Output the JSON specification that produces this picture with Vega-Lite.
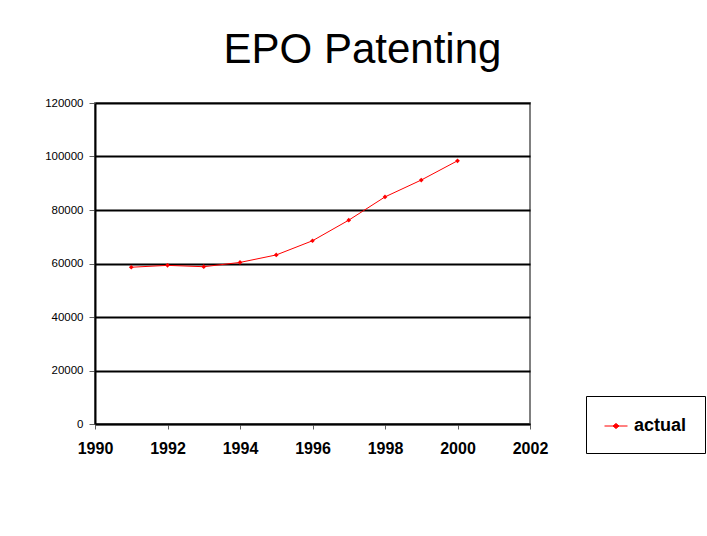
{
  "$schema": "https://vega.github.io/schema/vega-lite/v6.json",
  "autosize": "none",
  "width": 435,
  "height": 321,
  "padding": {"left": 95, "top": 103, "right": 177, "bottom": 112},
  "background": "white",
  "title": {
    "text": "EPO Patenting",
    "font": "Liberation Sans",
    "fontSize": 42,
    "fontWeight": "normal",
    "color": "black",
    "anchor": "middle",
    "frame": "group",
    "dx": 50,
    "baseline": "alphabetic",
    "offset": -8
  },
  "config": {
    "view": {"stroke": "#808080", "strokeWidth": 2},
    "font": "Liberation Sans"
  },
  "data": {
    "values": [
      {"year": 1991, "patents": 58600, "series": "actual"},
      {"year": 1992, "patents": 59300, "series": "actual"},
      {"year": 1993, "patents": 58800, "series": "actual"},
      {"year": 1994, "patents": 60400, "series": "actual"},
      {"year": 1995, "patents": 63200, "series": "actual"},
      {"year": 1996, "patents": 68500, "series": "actual"},
      {"year": 1997, "patents": 76200, "series": "actual"},
      {"year": 1998, "patents": 84900, "series": "actual"},
      {"year": 1999, "patents": 91200, "series": "actual"},
      {"year": 2000, "patents": 98400, "series": "actual"}
    ]
  },
  "mark": {
    "type": "line",
    "strokeWidth": 1,
    "point": {"shape": "diamond", "size": 22, "filled": true, "color": "red"}
  },
  "encoding": {
    "x": {
      "field": "year",
      "type": "quantitative",
      "scale": {"domain": [1990, 2002], "nice": false, "zero": false},
      "axis": {
        "title": null,
        "values": [1990, 1992, 1994, 1996, 1998, 2000, 2002],
        "format": "d",
        "grid": false,
        "domainColor": "black",
        "domainWidth": 1.5,
        "tickColor": "#606060",
        "tickSize": 5,
        "labelFont": "Liberation Sans",
        "labelFontSize": 16,
        "labelFontWeight": "bold",
        "labelColor": "black",
        "labelPadding": 11,
        "labelFlush": false
      }
    },
    "y": {
      "field": "patents",
      "type": "quantitative",
      "scale": {"domain": [0, 120000], "nice": false},
      "axis": {
        "title": null,
        "values": [0, 20000, 40000, 60000, 80000, 100000, 120000],
        "format": "d",
        "grid": true,
        "gridColor": "black",
        "gridWidth": 2,
        "gridOpacity": 1,
        "domainColor": "black",
        "domainWidth": 2,
        "tickColor": "#606060",
        "tickSize": 6,
        "labelFont": "Liberation Sans",
        "labelFontSize": 11.5,
        "labelFontWeight": "normal",
        "labelColor": "black",
        "labelPadding": 6
      }
    },
    "color": {
      "field": "series",
      "type": "nominal",
      "scale": {"domain": ["actual"], "range": ["red"]},
      "legend": {
        "title": null,
        "orient": "none",
        "legendX": 491,
        "legendY": 293,
        "padding": 18,
        "strokeColor": "black",
        "fillColor": "white",
        "symbolType": "M-1,0H1M-0.26,0L0,-0.22L0.26,0L0,0.22Z",
        "symbolSize": 529,
        "symbolStrokeWidth": 1,
        "labelFont": "Liberation Sans",
        "labelFontSize": 18,
        "labelFontWeight": "bold",
        "labelColor": "black",
        "labelOffset": 6,
        "encode": {"symbols": {"update": {"fill": {"value": "red"}}}}
      }
    }
  }
}
